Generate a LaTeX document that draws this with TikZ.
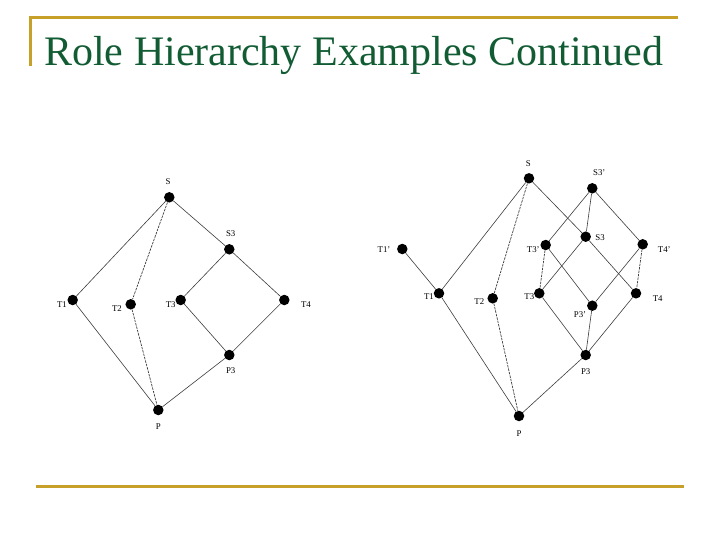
\documentclass[tikz,border=0pt]{standalone}
\usepackage{fontspec}
\setmainfont{Liberation Serif}
\definecolor{gold}{RGB}{198,160,40}
\definecolor{titlegreen}{RGB}{18,92,52}
\definecolor{edgegray}{RGB}{60,60,60}
\begin{document}
\begin{tikzpicture}[x=1pt,y=-1pt,
  dot/.style={circle,fill=black,inner sep=0pt,minimum size=10.5pt},
  lbl/.style={font=\fontsize{8.8}{10}\selectfont,inner sep=0pt},
  edge/.style={draw=edgegray,line width=0.6pt},
  dedge/.style={edge,line width=0.7pt,dash pattern=on 2.5pt off 1pt}]
\useasboundingbox (0,0) rectangle (720,540);
% frame lines
\draw[gold,line width=3pt] (28.5,18) -- (678,18);
\draw[gold,line width=3pt] (30,16.5) -- (30,66);
\draw[gold,line width=3pt] (36,486) -- (684,486);
\node[anchor=base west,inner sep=0pt,text=titlegreen,font=\fontsize{42}{46}\selectfont] (title) at (44,65.5) {Role Hierarchy Examples Continued};
% left graph
\node[dot] (aS) at (169.3,197.3) {};
\node[dot] (aS3) at (229.3,249.3) {};
\node[dot] (aT1) at (72.7,300) {};
\node[dot] (aT2) at (130.7,304.3) {};
\node[dot] (aT3) at (180.7,300) {};
\node[dot] (aT4) at (284.3,300) {};
\node[dot] (aP3) at (229.3,355) {};
\node[dot] (aP) at (158.3,410) {};
\node[lbl] (laS) at (168,182) {S};
\node[lbl] (laS3) at (230.7,234) {S3};
\node[lbl] (laT1) at (62,304.5) {T1};
\node[lbl] (laT2) at (117,309) {T2};
\node[lbl] (laT3) at (170.7,305) {T3};
\node[lbl] (laT4) at (306,305) {T4};
\node[lbl] (laP3) at (230.7,371) {P3};
\node[lbl] (laP) at (158.3,427) {P};
\draw[edge] (aS) -- (aT1);
\draw[dedge] (aS) -- (aT2);
\draw[edge] (aS) -- (aS3);
\draw[edge] (aS3) -- (aT3);
\draw[edge] (aS3) -- (aT4);
\draw[edge] (aT1) -- (aP);
\draw[dedge] (aT2) -- (aP);
\draw[edge] (aT3) -- (aP3);
\draw[edge] (aT4) -- (aP3);
\draw[edge] (aP3) -- (aP);
% right graph
\node[dot] (bS) at (529,178.3) {};
\node[dot] (bS3p) at (592.3,188.3) {};
\node[dot] (bS3) at (585.7,236.7) {};
\node[dot] (bT3p) at (545.7,245) {};
\node[dot] (bT4p) at (642.7,244.3) {};
\node[dot] (bT1p) at (402.3,249) {};
\node[dot] (bT1) at (439,293.3) {};
\node[dot] (bT2) at (492.7,298.3) {};
\node[dot] (bT3) at (539.3,293.3) {};
\node[dot] (bT4) at (636,293.3) {};
\node[dot] (bP3p) at (592.3,305.7) {};
\node[dot] (bP3) at (585.7,355) {};
\node[dot] (bP) at (519,416) {};
\node[lbl] (lbS) at (528.3,163.3) {S};
\node[lbl] (lbS3p) at (599.3,172.5) {S3'};
\node[lbl] (lbS3) at (600,238) {S3};
\node[lbl] (lbT3p) at (533.3,250) {T3'};
\node[lbl] (lbT4p) at (664.3,250) {T4'};
\node[lbl] (lbT1p) at (384,250) {T1'};
\node[lbl] (lbT1) at (429,297) {T1};
\node[lbl] (lbT2) at (479.3,302) {T2};
\node[lbl] (lbT3) at (529.3,297) {T3};
\node[lbl] (lbT4) at (657.7,298.3) {T4};
\node[lbl] (lbP3p) at (580,315) {P3'};
\node[lbl] (lbP3) at (585.7,372) {P3};
\node[lbl] (lbP) at (519,434) {P};
\draw[edge] (bS) -- (bT1);
\draw[dedge] (bS) -- (bT2);
\draw[edge] (bS) -- (bS3);
\draw[edge] (bT1p) -- (bT1);
\draw[edge] (bT1) -- (bP);
\draw[dedge] (bT2) -- (bP);
\draw[edge] (bP3) -- (bP);
\draw[edge] (bS3p) -- (bT3p);
\draw[edge] (bS3p) -- (bS3);
\draw[edge] (bS3p) -- (bT4p);
\draw[edge] (bS3) -- (bT3);
\draw[edge] (bS3) -- (bT4);
\draw[dedge] (bT3p) -- (bT3);
\draw[edge] (bT3p) -- (bP3p);
\draw[edge] (bT4p) -- (bP3p);
\draw[dedge] (bT4p) -- (bT4);
\draw[edge] (bT3) -- (bP3);
\draw[edge] (bT4) -- (bP3);
\draw[edge] (bP3p) -- (bP3);
\end{tikzpicture}
\end{document}
